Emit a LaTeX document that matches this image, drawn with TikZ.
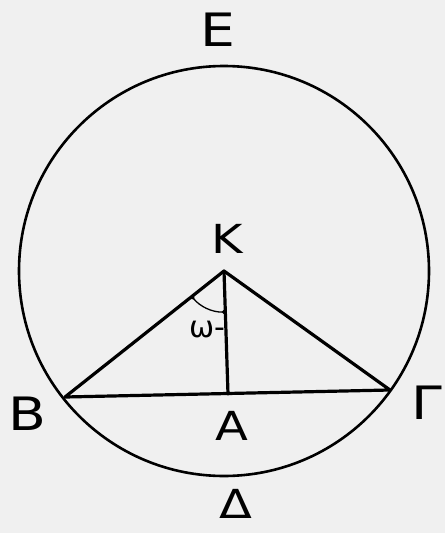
\documentclass[tikz,border=0pt]{standalone}
\usepackage{fontspec}
\newfontfamily\lblfont[FakeStretch=1.2]{DejaVu Sans}
\newfontfamily\anglefont{DejaVu Sans}
\usetikzlibrary{angles,arrows.meta}

\begin{document}
\begin{tikzpicture}[x=1pt, y=-1pt,
  every node/.style={inner sep=0pt},
  pointlabel/.style={font=\lblfont\fontsize{46}{46}\selectfont},
  smalllabel/.style={font=\lblfont\fontsize{40}{40}\selectfont},
  edgeline/.style={line width=3.2pt, line cap=round, line join=round}]
  \fill[black!6] (0,0) rectangle (445,533);
  \useasboundingbox (0,0) rectangle (445,533);
  % points of the figure
  \coordinate (K) at (224,271);
  \coordinate (B) at (65,397);
  \coordinate (G) at (390,390);
  \coordinate (A) at (228,394);
  % circle and triangle
  \draw[line width=2.6pt] (K) circle[radius=205];
  \draw[edgeline] (B) -- (K) -- (G) -- cycle;
  \draw[edgeline] (K) -- (A);
  \pic[draw, line width=1.3pt, {Circle[length=3.5pt]}-{Circle[length=3.5pt]}, angle radius=41pt] {angle=B--K--A};
  % labels
  \node[pointlabel] (labE) at (218,30) {E};
  \node[smalllabel] (labK) at (227,239) {K};
  \node[pointlabel] (labB) at (27,414) {B};
  \node[smalllabel] (labA) at (232,426) {A};
  \node[pointlabel, anchor=north east] (labG) at (442,386) {Γ};
  \node[smalllabel] (labD) at (236,504) {Δ};
  \node[font=\anglefont\fontsize{30}{30}\selectfont] (labw) at (207,330) {ω-};
\end{tikzpicture}
\end{document}
